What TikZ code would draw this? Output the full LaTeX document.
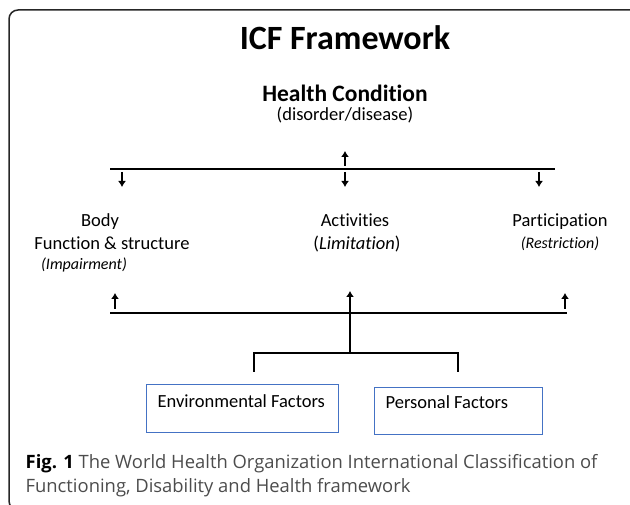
\documentclass[tikz,border=0pt]{standalone}
\usepackage{fontspec}
\setmainfont[Ligatures=NoCommon]{Carlito}
\newfontfamily\capfont{Open Sans}
\usetikzlibrary{arrows.meta}
\definecolor{boxblue}{RGB}{68,114,196}
\tikzset{
  lbl/.style={anchor=base,font=\fontsize{18.5}{22}\selectfont,inner sep=0pt},
  sublbl/.style={lbl,font=\fontsize{16}{19}\selectfont\itshape},
  factor/.style={draw=boxblue,line width=1pt,anchor=north west,inner sep=0pt}
}
\begin{document}
\begin{tikzpicture}[>={Latex[length=6pt,width=8pt]},x=1pt,y=-1pt,line width=1.3pt]
        \clip (0,0) rectangle (630,505);
        \useasboundingbox (0,0) rectangle (630,505);
        % outer frame
        \draw[black!85,line width=1.5pt,rounded corners=9pt](9,10)rectangle(640,510);
        \node[lbl,font=\bfseries\fontsize{34}{40}\selectfont] (title) at (345,50) {ICF Framework};
        \node[lbl,font=\bfseries\fontsize{23.5}{28}\selectfont] (hc) at (345,102) {Health Condition};
        \node[lbl] (hcsub) at (345,121) {(disorder/disease)};
        % upper bus
        \coordinate (tl) at (110,169);
        \coordinate (tr) at (555,169);
        \draw (tl)--(tr);
        \draw[->](345,166)--(345,151);
        \foreach \x in {122,345,539}
            \draw[->](\x,172)--(\x,187);
        % middle row
        \node[lbl] (body) at (100,227) {Body};
        \node[lbl] (func) at (112,250) {Function \& structure};
        \node[sublbl] (imp) at (84,270) {(Impairment)};
        \node[lbl] (act) at (355,227) {Activities};
        \node[lbl] (lim) at (357,250) {(\textit{Limitation})};
        \node[lbl] (part) at (560,227) {Participation};
        \node[sublbl] (res) at (560,249) {(Restriction)};
        % lower bus
        \coordinate (bl) at (110,313);
        \coordinate (br) at (567,313);
        \draw (bl)--(br);
        \foreach \x in {115,565}
            \draw[->](\x,309)--(\x,293);
        \coordinate (fork) at (350,353);
        \draw[->](fork)--(350,291);
        \draw (254,372)--(254,353)--(458,353)--(458,372);
        % factors
        \node[factor,minimum width=192pt,minimum height=48pt] (env) at (146,384) {};
        \node[lbl,anchor=base west] (envtxt) at (157,407) {Environmental Factors};
        \node[factor,minimum width=168pt,minimum height=47pt] (pers) at (374,387) {};
        \node[lbl,anchor=base west] (perstxt) at (385,409) {Personal Factors};
        % caption
        \node[anchor=base west,inner sep=0pt,align=left,text=black!70,font=\capfont\fontsize{18.4}{24}\selectfont] (cap) at (25,492)
            {{\color{black}\bfseries Fig. 1} The World Health Organization International Classification of\\Functioning, Disability and Health framework};
    \end{tikzpicture}
\end{document}
